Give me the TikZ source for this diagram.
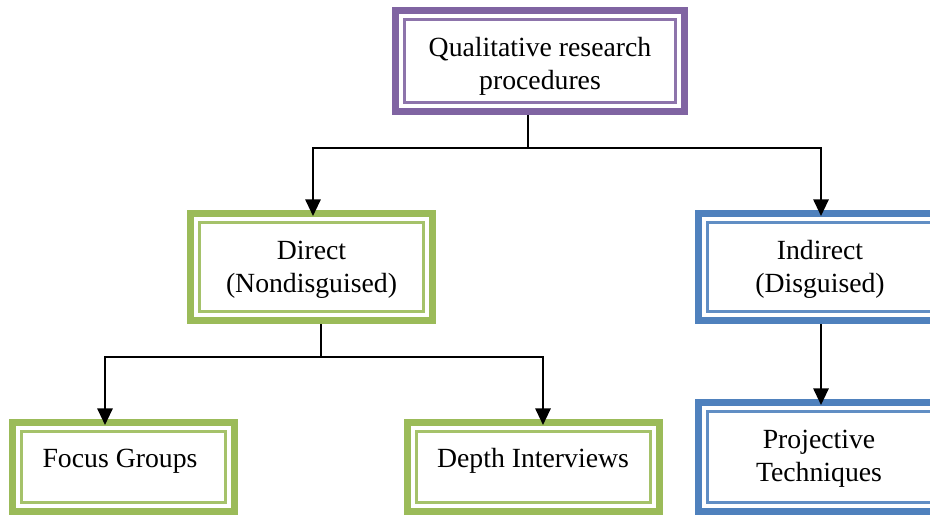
\documentclass[tikz,border=0pt]{standalone}
\usepackage{fontspec}
\setmainfont{Liberation Serif}
\usetikzlibrary{arrows.meta}
\definecolor{purp}{HTML}{8064A2}
\definecolor{grn}{HTML}{9BBB59}
\definecolor{blu}{HTML}{4F81BD}
\begin{document}
\begin{tikzpicture}[x=0.75pt,y=-0.75pt,
  box/.style={rectangle,inner sep=0pt,outer sep=0pt},
  lbl/.style={align=center,inner sep=0pt,font=\fontsize{20.8pt}{24.75pt}\selectfont},
  link/.style={line width=1.5pt,black},
  arr/.style={link,-{Triangle[width=11.5pt,length=12.5pt]}}]
\useasboundingbox (0,0) rectangle (930,516);
\clip (0,0) rectangle (930,516);

% boxes (outer extents)
\node[box,minimum width=222pt,minimum height=81pt] (top) at (540,61) {};
\node[box,minimum width=186.75pt,minimum height=85.5pt] (dir) at (311.5,267) {};
\node[box,minimum width=187.5pt,minimum height=85.5pt] (ind) at (820,267) {};
\node[box,minimum width=171.75pt,minimum height=72pt] (focus) at (123.5,467) {};
\node[box,minimum width=194.25pt,minimum height=72pt] (depth) at (533.5,467) {};
\node[box,minimum width=187.5pt,minimum height=87pt] (proj) at (820,457) {};

% thick-thin double frames
\foreach \n/\c in {top/purp,dir/grn,ind/blu,focus/grn,depth/grn,proj/blu}{
  \draw[\c,line width=5.6pt]
    ([shift={(3.75,3.75)}]\n.north west) rectangle ([shift={(-3.75,-3.75)}]\n.south east);
  \draw[\c!90,line width=1.9pt]
    ([shift={(12.75,12.75)}]\n.north west) rectangle ([shift={(-12.75,-12.75)}]\n.south east);
}

% texts
\node[lbl] (top-t) at (540,66.5) {Qualitative research\\procedures};
\node[lbl] (dir-t) at (311.5,269.5) {Direct\\(Nondisguised)};
\node[lbl] (ind-t) at (820,269.5) {Indirect\\(Disguised)};
\node[lbl] (focus-t) at (120,461) {Focus Groups};
\node[lbl] (depth-t) at (533,461) {Depth Interviews};
\node[lbl] (proj-t) at (819,458.5) {Projective\\Techniques};

% connectors
\coordinate (j1) at (528,148);
\coordinate (j2) at (321,357);
\draw[link] (528,0 |- top.south) -- (j1);
\draw[arr] (j1) -| ([yshift=-4.5pt]313,0 |- dir.north);
\draw[arr] (j1) -| ([yshift=-4.5pt]821,0 |- ind.north);
\draw[link] (321,0 |- dir.south) -- (j2);
\draw[arr] (j2) -| ([yshift=-4.5pt]105,0 |- focus.north);
\draw[arr] (j2) -| ([yshift=-4.5pt]543,0 |- depth.north);
\draw[arr] (821,0 |- ind.south) -- ([yshift=-4.5pt]821,0 |- proj.north);
\end{tikzpicture}
\end{document}
